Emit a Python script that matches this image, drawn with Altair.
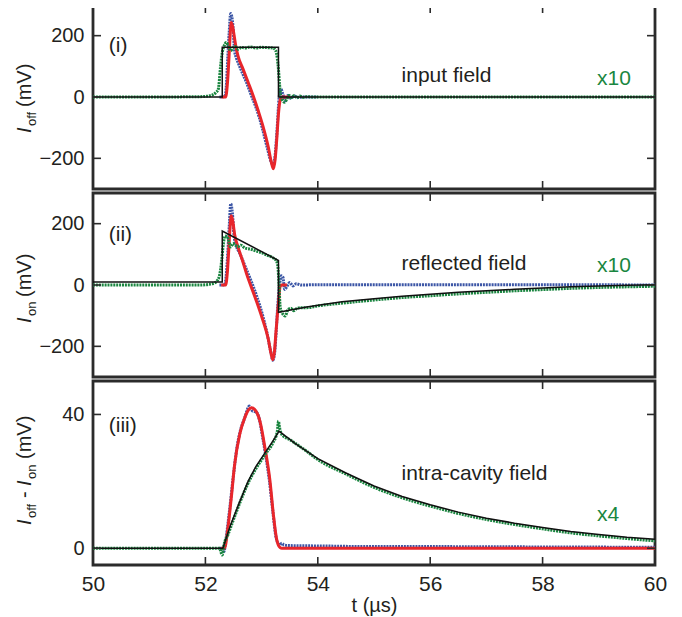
import altair as alt
import pandas as pd

FONT = "Liberation Sans"
RED = "#e8262b"
BLUE = "#3c56a6"
GREEN = "#1a8640"
BLACK = "#111111"
FRAME = "#2b2b2b"
TXT = "#231f20"

x_ticks = [50, 52, 54, 56, 58, 60]
y_ticks_12 = [-200, 0, 200]
y_ticks_3 = [0, 40]

# ---------------- panel (i): input field ----------------
p1_black_t = [50, 52.30, 52.30, 53.30, 53.30, 60]
p1_black_v = [0, 0, 162, 162, 0, 0]

p1_green_t = [50, 51.0, 51.9, 52.0, 52.08, 52.14, 52.19, 52.23, 52.27, 52.30, 52.33, 52.37,
              52.41, 52.45, 52.49, 52.53, 52.58, 52.64, 52.70, 52.80, 52.90, 53.00, 53.10,
              53.20, 53.25, 53.28, 53.30, 53.32, 53.34, 53.37, 53.41, 53.45, 53.49, 53.53,
              53.58, 53.63, 53.68, 53.74, 53.80, 53.90, 54.0, 55.0, 56.0, 57.0, 58.0, 59.0, 60]
p1_green_v = [0, 0, 1, 2, 4, 8, 15, 26, 100, 145, 165, 178,
              165, 151, 160, 165, 156, 162, 160, 163, 160, 162, 161,
              160, 152, 125, 90, 40, 5, -10, -17, -6, 5, -2,
              5, -3, 3, -1, 1, 0, 0, 0, 0, 0, 0, 0, 0]

p1_blue_t = [52.25, 52.30, 52.345, 52.37, 52.39, 52.42, 52.45, 52.47, 52.49, 52.52, 52.55,
             52.58, 52.64, 52.73, 52.82, 52.91, 53.00, 53.09, 53.17, 53.20, 53.24, 53.28,
             53.31, 53.345, 53.38, 53.42, 53.47, 53.52, 53.58, 53.65, 53.75, 54.0]
p1_blue_v = [0, 0, 2, 30, 100, 200, 272, 262, 232, 150, 128,
             113, 86, 48, 4, -39, -93, -158, -212, -223, -191, -93,
             -5, 26, 8, -12, 5, -4, 3, -1, 0, 0]

p1_red_t = [52.28, 52.36, 52.39, 52.42, 52.44, 52.46, 52.49, 52.52, 52.54, 52.58, 52.67,
            52.76, 52.85, 52.94, 53.03, 53.12, 53.17, 53.21, 53.24, 53.27, 53.30, 53.33,
            53.36, 53.5]
p1_red_v = [0, 0, 40, 130, 200, 243, 225, 190, 167, 134, 91,
            48, 4, -45, -99, -164, -210, -234, -205, -137, -55, -10,
            0, 0]

# ---------------- panel (ii): reflected field ----------------
p2_black_t = [50, 52.30, 52.30, 53.30, 53.30, 53.8, 54.43, 55.0, 55.5, 56.0, 56.5, 57.0,
              57.5, 58.0, 58.5, 59.0, 59.5, 60]
p2_black_v = [10, 10, 176, 80, -89, -72, -55, -45, -37, -30, -24, -19,
              -14, -10, -6, -3, -1, 1]

p2_green_t = [50, 51.9, 52.05, 52.14, 52.20, 52.25, 52.29, 52.32, 52.35, 52.39, 52.42,
              52.45, 52.49, 52.53, 52.58, 52.63, 52.70, 52.80, 52.90, 53.00, 53.10, 53.20,
              53.26, 53.29, 53.31, 53.33, 53.36, 53.42, 53.47, 53.52, 53.57, 53.63, 53.70,
              53.80, 54.0, 54.5, 55.0, 55.5, 56.0, 56.5, 57.0, 57.5, 58.0, 58.5, 59.0,
              59.5, 60]
p2_green_v = [0, 0, 2, 5, 12, 30, 80, 135, 160, 158, 140,
              124, 135, 130, 125, 130, 121, 117, 111, 105, 97, 89,
              80, 60, 0, -70, -89, -101, -80, -76, -84, -76, -74,
              -74, -68, -58, -49, -41, -35, -29, -24, -19, -15, -11, -8,
              -6, -4]

p2_blue_t = [52.25, 52.34, 52.37, 52.40, 52.43, 52.45, 52.48, 52.51, 52.55, 52.62, 52.72,
             52.82, 52.92, 53.02, 53.10, 53.16, 53.20, 53.23, 53.26, 53.29, 53.32, 53.35,
             53.38, 53.41, 53.45, 53.50, 53.56, 53.62, 53.70, 54.0, 56.0, 58.0, 60]
p2_blue_v = [0, 0, 30, 110, 210, 265, 235, 160, 128, 100, 55,
             10, -40, -100, -160, -215, -245, -225, -150, -60, 0, 30,
             25, -15, -5, 8, -3, 4, 0, 1, 1, 1, 0]

p2_red_t = [52.28, 52.36, 52.39, 52.42, 52.44, 52.46, 52.49, 52.52, 52.58, 52.66, 52.73,
            52.88, 53.00, 53.12, 53.17, 53.20, 53.23, 53.25, 53.30, 53.33, 53.36, 53.45]
p2_red_v = [0, 0, 40, 130, 190, 226, 205, 165, 124, 80, 38,
            -38, -102, -177, -225, -244, -215, -167, -58, -5, 0, 0]

# ---------------- panel (iii): intra-cavity field ----------------
p3_black_t = [50, 52.31, 52.45, 52.60, 52.76, 52.90, 53.06, 53.20, 53.31, 53.6, 54.0, 54.5,
              55.0, 55.5, 56.0, 56.5, 57.0, 57.5, 58.0, 58.5, 59.0, 59.5, 60]
p3_black_v = [0, 0, 7, 13.5, 20, 24.5, 28.5, 32, 35, 31.3, 26.8, 22.5,
              18.6, 15.5, 13.0, 10.8, 9.0, 7.5, 6.2, 5.0, 4.1, 3.3, 2.7]

p3_green_t = [50, 52.25, 52.30, 52.33, 52.40, 52.52, 52.76, 53.06, 53.20, 53.28, 53.30,
              53.32, 53.36, 53.5, 53.8, 54.0, 54.5, 55.0, 55.5, 56.0, 56.5, 57.0, 57.5,
              58.0, 58.5, 59.0, 59.5, 60]
p3_green_v = [0, 0, -2, 1, 4, 9.5, 19.5, 28, 31.5, 35, 38,
              36, 34, 32.5, 29, 26.5, 22.2, 18.2, 15.1, 12.6, 10.4, 8.6, 7.1,
              5.8, 4.6, 3.7, 2.9, 2.2]

p3_blue_t = [52.25, 52.30, 52.33, 52.36, 52.42, 52.50, 52.56, 52.62, 52.70, 52.78, 52.84,
             52.90, 52.96, 53.02, 53.08, 53.14, 53.20, 53.26, 53.32, 53.36, 53.40, 53.5,
             54.0, 55.0, 56.0, 58.0, 60]
p3_blue_v = [0, 0, -1, 2, 10, 22, 30, 35, 39, 42.5, 41,
             40.8, 38.5, 33, 27, 20, 11, 3, 1, 1.5, 1.0, 0.8,
             0.7, 0.5, 0.5, 0.4, 0.3]

p3_red_t = [52.28, 52.34, 52.40, 52.46, 52.52, 52.61, 52.70, 52.76, 52.82, 52.90, 52.97,
            53.06, 53.15, 53.21, 53.27, 53.33, 53.36, 60]
p3_red_v = [0, 0, 6, 15, 25, 34, 39, 41.2, 42, 41, 38,
            30, 20, 10, 2.5, 0.2, 0, 0]

W, H = 562, 184
XS = alt.Scale(domain=[50, 60], nice=False, zero=False)
DUMMY = pd.DataFrame({"d": [0]})


def df(t, v):
    return pd.DataFrame({"t": t, "v": v, "i": list(range(len(t)))})


def panel(ydom, yticks, series, labels, title_pieces, show_x):
    ys = alt.Scale(domain=ydom, nice=False, zero=False)
    if show_x:
        xaxis = alt.Axis(values=x_ticks, format="d", ticks=False, domain=False, grid=False,
                         labelFont=FONT, labelFontSize=21, labelColor=TXT, labelPadding=8,
                         labelFlush=False,
                         title="t (µs)", titleFont=FONT, titleFontSize=20,
                         titleFontWeight="normal", titleColor=TXT, titlePadding=1)
    else:
        xaxis = None
    yaxis = alt.Axis(values=yticks, ticks=False, domain=False, grid=False, labelFont=FONT,
                     labelFontSize=20, labelColor=TXT, labelPadding=9, title=None)
    X = alt.X("t:Q", scale=XS, axis=xaxis)
    Y = alt.Y("v:Q", scale=ys, axis=yaxis)
    layers = []
    for t, v, kind in series:
        d = df(t, v)
        if kind == "blue":
            m = alt.Chart(d).mark_line(color=BLUE, strokeWidth=3, strokeDash=[2, 0.9],
                                       interpolate="monotone")
        elif kind == "red":
            m = alt.Chart(d).mark_line(color=RED, strokeWidth=3, interpolate="monotone")
        elif kind == "green":
            m = alt.Chart(d).mark_line(color=GREEN, strokeWidth=3, strokeDash=[2, 0.9],
                                       interpolate="monotone")
        else:
            m = alt.Chart(d).mark_line(color=BLACK, strokeWidth=1.5)
        layers.append(m.encode(x=X, y=Y, order="i:Q"))
    xt = pd.DataFrame({"t": x_ticks})
    yt = pd.DataFrame({"v": yticks})
    tick_style = dict(color=FRAME, strokeWidth=1.6)
    layers.append(alt.Chart(xt).mark_rule(**tick_style).encode(x=X, y=alt.value(0), y2=alt.value(8)))
    layers.append(alt.Chart(xt).mark_rule(**tick_style).encode(x=X, y=alt.value(H), y2=alt.value(H - 8)))
    layers.append(alt.Chart(yt).mark_rule(**tick_style).encode(y=Y, x=alt.value(0), x2=alt.value(8)))
    layers.append(alt.Chart(yt).mark_rule(**tick_style).encode(y=Y, x=alt.value(W), x2=alt.value(W - 8)))
    for text, tx, ty, color, baseline in labels:
        layers.append(
            alt.Chart(DUMMY).mark_text(text=text, font=FONT, fontSize=21, color=color,
                                       align="left", baseline=baseline)
            .encode(x=alt.X(datum=tx, scale=XS), y=alt.Y(datum=ty, scale=ys))
        )
    for text, px, py, size, italic in title_pieces:
        kw = dict(text=text, font=FONT, fontSize=size, color=TXT, angle=270,
                  align="left", baseline="alphabetic")
        if italic:
            kw["fontStyle"] = "italic"
        layers.append(alt.Chart(DUMMY).mark_text(**kw).encode(x=alt.value(px), y=alt.value(py)))
    return alt.layer(*layers).properties(width=W, height=H)


p1 = panel(
    [-300, 300], y_ticks_12,
    [(p1_blue_t, p1_blue_v, "blue"), (p1_red_t, p1_red_v, "red"),
     (p1_green_t, p1_green_v, "green"), (p1_black_t, p1_black_v, "black")],
    [("(i)", 50.28, 165, TXT, "middle"), ("input field", 55.49, 48, TXT, "alphabetic"),
     ("x10", 58.97, 39, GREEN, "alphabetic")],
    [("I", -62, 128, 20, True), ("off", -57, 121, 13, False), ("(mV)", -62, 102, 20, False)],
    False,
)

p2 = panel(
    [-300, 300], y_ticks_12,
    [(p2_blue_t, p2_blue_v, "blue"), (p2_red_t, p2_red_v, "red"),
     (p2_green_t, p2_green_v, "green"), (p2_black_t, p2_black_v, "black")],
    [("(ii)", 50.28, 164, TXT, "middle"), ("reflected field", 55.49, 49, TXT, "alphabetic"),
     ("x10", 58.97, 42, GREEN, "alphabetic")],
    [("I", -62, 130, 20, True), ("on", -57, 123, 13, False), ("(mV)", -62, 104, 20, False)],
    False,
)

p3 = panel(
    [-5, 50], y_ticks_3,
    [(p3_blue_t, p3_blue_v, "blue"), (p3_red_t, p3_red_v, "red"),
     (p3_green_t, p3_green_v, "green"), (p3_black_t, p3_black_v, "black")],
    [("(iii)", 50.28, 36.4, TXT, "middle"), ("intra-cavity field", 55.49, 20.5, TXT, "alphabetic"),
     ("x4", 58.97, 8.2, GREEN, "alphabetic")],
    [("I", -62, 144, 20, True), ("off", -57, 137, 13, False), ("-", -62, 117, 20, False),
     ("I", -62, 105, 20, True), ("on", -57, 98, 13, False), ("(mV)", -62, 78, 20, False)],
    True,
)

chart = (
    alt.vconcat(p1, p2, p3, spacing=4, bounds="flush")
    .properties(padding={"left": 5, "top": -6, "right": 5, "bottom": 0})
    .configure_view(stroke=FRAME, strokeWidth=2.8)
)

chart.save("out.html", embed_options={"renderer": "svg", "actions": False})
